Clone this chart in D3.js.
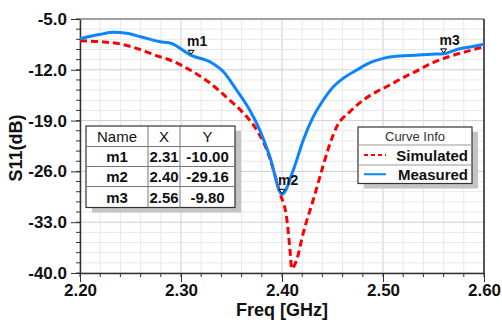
<!DOCTYPE html>
<html>
<head>
<meta charset="utf-8">
<script src="https://cdn.jsdelivr.net/npm/d3@7"></script>
<style>
  body { margin: 0; background: #fff; }
  svg { display: block; font-family: "Liberation Sans", Arial, sans-serif; }
</style>
</head>
<body>
<script>
// Simulated S11 (red dashed)
const simFreq = [2.20, 2.22, 2.24, 2.259, 2.279, 2.289, 2.309, 2.329, 2.348, 2.362, 2.375, 2.385,
  2.398, 2.4047, 2.4079, 2.4096, 2.4145, 2.421, 2.431, 2.4395, 2.446, 2.4542, 2.4673, 2.4805,
  2.4938, 2.5069, 2.5168, 2.532, 2.548, 2.565, 2.582, 2.60];
const simS11 = [-7.99, -8.13, -8.44, -9.18, -10.2, -10.65, -12.03, -13.86, -16.16, -18.0, -20.3, -23.05,
  -29.0, -32.5, -36.8, -39.4, -38.2, -34.5, -29.9, -25.8, -22.8, -19.84, -17.77, -16.16,
  -15.0, -14.09, -13.3, -12.26, -11.1, -10.2, -9.5, -8.82];

// Measured S11 (blue)
const measFreq = [2.20, 2.22, 2.233, 2.246, 2.26, 2.279, 2.289, 2.31, 2.33, 2.342, 2.355, 2.368,
  2.378, 2.388, 2.40, 2.4112, 2.4211, 2.431, 2.4409, 2.4508, 2.4607, 2.474, 2.4871, 2.5003,
  2.5168, 2.532, 2.548, 2.56, 2.575, 2.588, 2.60];
const measS11 = [-7.71, -7.11, -6.83, -6.97, -7.44, -8.13, -8.3, -10.0, -11.0, -12.26, -14.78, -17.54,
  -20.3, -23.97, -29.16, -25.81, -21.67, -18.46, -16.16, -14.33, -13.17, -12.03, -11.02, -10.42,
  -10.1, -10.0, -9.86, -9.8, -9.13, -8.82, -8.49];

const markerNames = ["m1", "m2", "m3"];
const markerX = [2.31, 2.40, 2.56];
const markerY = [-10.00, -29.16, -9.80];

const xTicks = [2.20, 2.30, 2.40, 2.50, 2.60];
const yTicks = [-40, -33, -26, -19, -12, -5];

const seriesNames = ["Simulated", "Measured"];
const seriesColors = ["#ff0000", "#0a84ff"];

const width = 502, height = 324;
const pLeft = 80, pRight = 484, pTop = 19, pBottom = 273;

const svg = d3.select("body").append("svg")
  .attr("width", width)
  .attr("height", height);

const x = d3.scaleLinear().domain([2.2, 2.6]).range([pLeft, pRight]);
const y = d3.scaleLinear().domain([-40, -5]).range([pBottom, pTop]);

const xMinor = d3.range(2.2, 2.6001, 0.02);
const yMinor = d3.range(-40, -4.99, 1.4);

// grid
svg.append("g").selectAll("line")
  .data(xMinor)
  .join("line")
  .attr("x1", d => x(d)).attr("x2", d => x(d))
  .attr("y1", pTop).attr("y2", pBottom)
  .attr("stroke", (d, i) => i % 5 === 0 ? "#cfcfcf" : "#e8e8e8");

svg.append("g").selectAll("line")
  .data(yMinor)
  .join("line")
  .attr("y1", d => y(d)).attr("y2", d => y(d))
  .attr("x1", pLeft).attr("x2", pRight)
  .attr("stroke", (d, i) => i % 5 === 0 ? "#cfcfcf" : "#e8e8e8");

// frame
svg.append("line").attr("x1", pLeft).attr("x2", pRight).attr("y1", pTop).attr("y2", pTop)
  .attr("stroke", "#8a8a8a").attr("stroke-width", 1.5);
svg.append("line").attr("x1", pRight).attr("x2", pRight).attr("y1", pTop).attr("y2", pBottom)
  .attr("stroke", "#222").attr("stroke-width", 1.5);

// axes
const xAxis = svg.append("g")
  .attr("transform", `translate(0,${pBottom})`)
  .call(d3.axisBottom(x).tickValues(xTicks).tickSize(9).tickSizeOuter(0)
    .tickFormat(d => d.toFixed(2)));
xAxis.append("g").selectAll("line")
  .data(xMinor)
  .join("line")
  .attr("x1", d => x(d)).attr("x2", d => x(d))
  .attr("y1", 0).attr("y2", 4)
  .attr("stroke", "#333");

const yAxis = svg.append("g")
  .attr("transform", `translate(${pLeft},0)`)
  .call(d3.axisLeft(y).tickValues(yTicks).tickSize(9).tickSizeOuter(0)
    .tickFormat(d => d.toFixed(1)));
yAxis.append("g").selectAll("line")
  .data(yMinor)
  .join("line")
  .attr("y1", d => y(d)).attr("y2", d => y(d))
  .attr("x1", 0).attr("x2", -4)
  .attr("stroke", "#333");

svg.selectAll(".domain").attr("stroke", "#333").attr("stroke-width", 1.5);
svg.selectAll(".tick line").attr("stroke", "#333");
svg.selectAll(".tick text")
  .attr("font-size", 17)
  .attr("font-weight", "bold")
  .attr("fill", "#111")
  .attr("font-family", "Liberation Sans, Arial, sans-serif");
xAxis.selectAll(".tick text").attr("dy", null).attr("y", 23);
yAxis.selectAll(".tick text").attr("x", -13);

// axis titles
svg.append("text")
  .attr("x", (pLeft + pRight) / 2)
  .attr("y", 316)
  .attr("text-anchor", "middle")
  .attr("font-size", 18)
  .attr("font-weight", "bold")
  .attr("fill", "#111")
  .text("Freq [GHz]");

svg.append("text")
  .attr("transform", "translate(22,148) rotate(-90)")
  .attr("text-anchor", "middle")
  .attr("font-size", 18)
  .attr("font-weight", "bold")
  .attr("fill", "#111")
  .text("S11(dB)");

// curves
svg.append("clipPath").attr("id", "plot")
  .append("rect").attr("x", pLeft).attr("y", pTop)
  .attr("width", pRight - pLeft).attr("height", pBottom - pTop);

const line = d3.line()
  .x(d => x(d[0]))
  .y(d => y(d[1]))
  .curve(d3.curveMonotoneX);

svg.append("path")
  .datum(d3.zip(simFreq, simS11))
  .attr("clip-path", "url(#plot)")
  .attr("fill", "none")
  .attr("stroke", seriesColors[0])
  .attr("stroke-width", 3)
  .attr("stroke-dasharray", "7,4")
  .attr("d", line);

svg.append("path")
  .datum(d3.zip(measFreq, measS11))
  .attr("clip-path", "url(#plot)")
  .attr("fill", "none")
  .attr("stroke", seriesColors[1])
  .attr("stroke-width", 3)
  .attr("d", line);

// markers
const mk = svg.append("g").selectAll("g")
  .data(markerNames.map((n, i) => ({ name: n, f: markerX[i], v: markerY[i] })))
  .join("g")
  .attr("transform", d => `translate(${x(d.f)},${y(d.v)})`);
mk.append("path")
  .attr("d", "M-3,-5L3,-5L0,-1Z")
  .attr("fill", "#fff")
  .attr("stroke", "#000")
  .attr("stroke-width", 1);
mk.append("text")
  .attr("x", -4)
  .attr("y", -9)
  .attr("font-size", 14)
  .attr("font-weight", "bold")
  .attr("fill", "#111")
  .text(d => d.name);

// marker table
const tX = [86, 148, 180, 235];
const tY = [126, 146.5, 166.5, 186.5, 207.5];
const table = svg.append("g");
table.append("rect")
  .attr("x", tX[0] + 6).attr("y", tY[0] + 5)
  .attr("width", tX[3] - tX[0]).attr("height", tY[4] - tY[0])
  .attr("fill", "#c4c4c4");
table.append("rect")
  .attr("x", tX[0]).attr("y", tY[0])
  .attr("width", tX[3] - tX[0]).attr("height", tY[4] - tY[0])
  .attr("fill", "#fff").attr("stroke", "#333").attr("stroke-width", 1.2);
table.append("g").selectAll("line").data(tY.slice(1, 4)).join("line")
  .attr("x1", tX[0]).attr("x2", tX[3]).attr("y1", d => d).attr("y2", d => d)
  .attr("stroke", "#777");
table.append("g").selectAll("line").data(tX.slice(1, 3)).join("line")
  .attr("x1", d => d).attr("x2", d => d).attr("y1", tY[0]).attr("y2", tY[4])
  .attr("stroke", "#777");
const rows = [["Name", "X", "Y"]].concat(markerNames.map((n, i) =>
  [n, markerX[i].toFixed(2), markerY[i].toFixed(2)]));
rows.forEach((r, ri) => {
  r.forEach((c, ci) => {
    table.append("text")
      .attr("x", (tX[ci] + tX[ci + 1]) / 2)
      .attr("y", (tY[ri] + tY[ri + 1]) / 2 + 5.5)
      .attr("text-anchor", "middle")
      .attr("font-size", 15)
      .attr("font-weight", ri === 0 ? "normal" : "bold")
      .attr("fill", "#111")
      .text(c);
  });
});

// legend
const lg = svg.append("g");
const lx0 = 358, lx1 = 472, ly = [127, 145, 165, 183.5];
lg.append("rect").attr("x", lx0 + 6).attr("y", ly[0] + 5)
  .attr("width", lx1 - lx0).attr("height", ly[3] - ly[0]).attr("fill", "#c4c4c4");
lg.append("rect").attr("x", lx0).attr("y", ly[0])
  .attr("width", lx1 - lx0).attr("height", ly[3] - ly[0])
  .attr("fill", "#fff").attr("stroke", "#333").attr("stroke-width", 1.2);
lg.append("g").selectAll("line").data(ly.slice(1, 3)).join("line")
  .attr("x1", lx0).attr("x2", lx1).attr("y1", d => d).attr("y2", d => d)
  .attr("stroke", "#999");
lg.append("text")
  .attr("x", (lx0 + lx1) / 2).attr("y", 141)
  .attr("text-anchor", "middle")
  .attr("font-size", 13)
  .attr("fill", "#333")
  .text("Curve Info");
seriesNames.forEach((n, i) => {
  const cy = (ly[i + 1] + ly[i + 2]) / 2;
  lg.append("line")
    .attr("x1", 364).attr("x2", 386).attr("y1", cy).attr("y2", cy)
    .attr("stroke", seriesColors[i]).attr("stroke-width", 2)
    .attr("stroke-dasharray", i === 0 ? "4,3" : null);
  lg.append("text")
    .attr("x", 468).attr("y", cy + 5.5)
    .attr("text-anchor", "end")
    .attr("font-size", 15)
    .attr("font-weight", "bold")
    .attr("fill", "#111")
    .text(n);
});
</script>
</body>
</html>
